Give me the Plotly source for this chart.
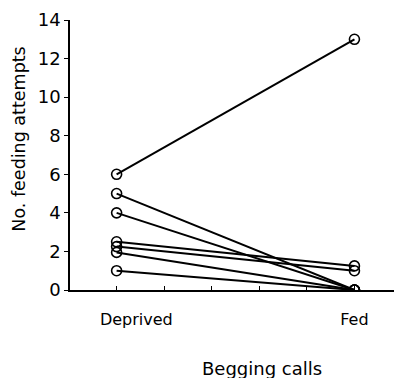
import plotly.graph_objects as go

conditions = ["Deprived", "Fed"]
deprived = [6.0, 5.0, 4.0, 2.5, 2.25, 1.95, 1.0]
fed = [13.0, 0.0, 0.0, 1.25, 1.0, 0.0, 0.0]
y_ticks = [0, 2, 4, 6, 8, 10, 12, 14]

xpos = [0, 1]
fig = go.Figure()
for d, f in zip(deprived, fed):
    fig.add_trace(go.Scatter(
        x=xpos, y=[d, f], mode="lines+markers",
        line=dict(color="black", width=2),
        marker=dict(symbol="circle-open", size=10, color="black", line=dict(width=1.6)),
        showlegend=False, hoverinfo="skip",
    ))

font = "DejaVu Sans, Arial, sans-serif"
fig.update_layout(
    width=394, height=370,
    margin=dict(l=62, r=0, t=12, b=88),
    plot_bgcolor="white", paper_bgcolor="white",
    font=dict(family=font, color="black", size=17),
    xaxis=dict(
        range=[-0.196, 1.2], showgrid=False, zeroline=False,
        showline=True, linecolor="black", linewidth=1.5,
        tickmode="array", tickvals=[0.083, 1.0], ticktext=conditions,
        ticks="", tickfont=dict(size=16), ticklabelstandoff=14, automargin=False,
        minor=dict(tickmode="array", tickvals=[0, 0.2, 0.4, 0.6, 0.8, 1.0],
                   ticks="inside", ticklen=4, tickwidth=1, tickcolor="black",
                   showgrid=False),
    ),
    yaxis=dict(
        range=[0, 14], showgrid=False, zeroline=False,
        showline=True, linecolor="black", linewidth=1.5,
        tickvals=y_ticks, ticks="outside", ticklen=4, tickwidth=1, tickcolor="black",
        tickfont=dict(size=18), automargin=False,
    ),
    annotations=[
        dict(text="Begging calls", xref="paper", yref="paper",
             x=0.578, y=-0.289, xanchor="center", yanchor="middle",
             showarrow=False, font=dict(size=18)),
        dict(text="No. feeding attempts", xref="paper", yref="paper",
             x=-0.154, y=0.56, xanchor="center", yanchor="middle", textangle=-90,
             showarrow=False, font=dict(size=17.5)),
    ],
)
fig.write_html("out.html")
